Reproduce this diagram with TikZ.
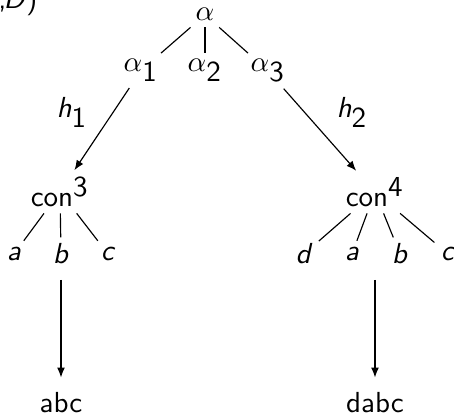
\documentclass[tikz,border=0pt]{standalone}
\usetikzlibrary{arrows.meta}
\newcommand{\sv}[1]{\textsf{\slshape #1}}
\newcommand{\sd}[1]{\textsf{#1}}
\begin{document}
\begin{tikzpicture}[x=0.3448pt,y=-0.3448pt,
  every node/.style={inner sep=2pt, font=\sffamily\fontsize{10}{12}\selectfont},
  tr/.style={anchor=center},
  bl/.style={anchor=base},
  edge/.style={line width=0.4pt},
  arr/.style={line width=0.4pt,-{Latex[length=3.4pt,width=2.7pt]}}]
\useasboundingbox (0,0) rectangle (454,416);
% clipped caption at top-left
\node[anchor=base east, inner sep=0pt] (cap) at (38,9) {,\kern-1pt\sv{D})};
% top tree
\node[bl] (al) at (205,21) {$\alpha$};
\node[bl] (al1) at (141,72) {$\alpha_{\sd{1}}$};
\node[bl] (al2) at (205,72) {$\alpha_{\sd{2}}$};
\node[bl] (al3) at (268,72) {$\alpha_{\sd{3}}$};
\draw[edge] (al) -- (al1);
\draw[edge] (al) -- (al2);
\draw[edge] (al) -- (al3);
% labels
\node[bl] (h1) at (72,118) {$\sv{h}_{\sd{1}}$};
\node[bl] (h2) at (352,118) {$\sv{h}_{\sd{2}}$};
% con nodes
\node[bl] (con3) at (60,206.7) {con$^{\sd{3}}$};
\node[bl] (con4) at (375,206.7) {con$^{\sd{4}}$};
\draw[arr] (al1) -- (con3);
\draw[arr] (al3) -- (con4);
% children of con3
\node[tr] (a1) at (14,254) {\sv{a}};
\node[tr] (b1) at (61,254) {\sv{b}};
\node[tr] (c1) at (108,254) {\sv{c}};
\draw[edge] (con3) -- (a1);
\draw[edge] (con3) -- (b1);
\draw[edge] (con3) -- (c1);
% children of con4
\node[tr] (d2) at (304,254) {\sv{d}};
\node[tr] (a2) at (352,254) {\sv{a}};
\node[tr] (b2) at (400,254) {\sv{b}};
\node[tr] (c2) at (448,254) {\sv{c}};
\draw[edge] (con4) -- (d2);
\draw[edge] (con4) -- (a2);
\draw[edge] (con4) -- (b2);
\draw[edge] (con4) -- (c2);
% results
\node[bl] (abc) at (61,413) {abc};
\node[bl] (dabc) at (375,413) {dabc};
\coordinate (s1) at (61,280);
\coordinate (s2) at (375,280);
\draw[arr, shorten >=3.1pt] (s1) -- (abc);
\draw[arr, shorten >=3.1pt] (s2) -- (dabc);
\end{tikzpicture}
\end{document}
